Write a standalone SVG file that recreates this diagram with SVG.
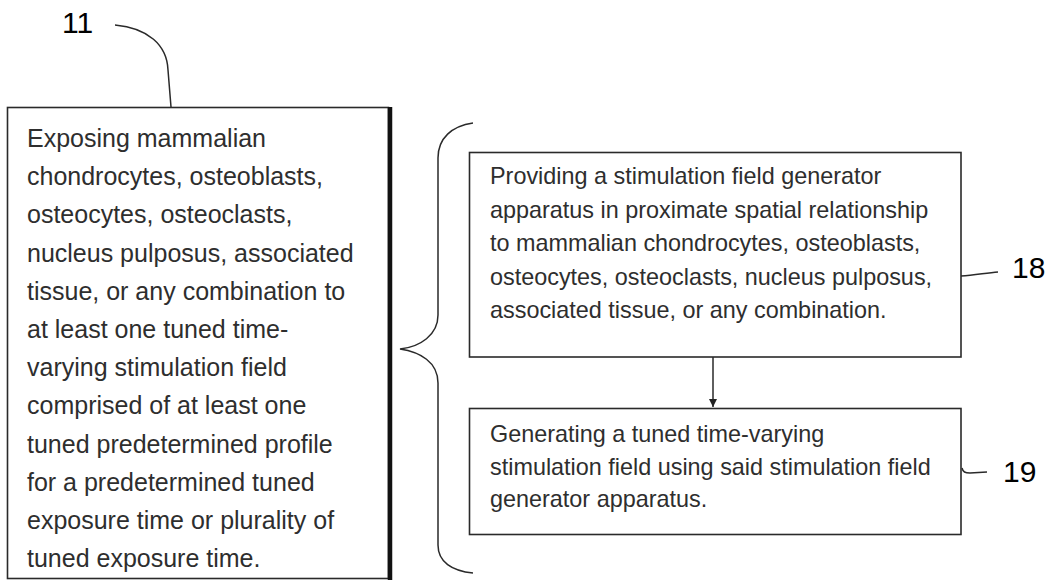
<svg xmlns="http://www.w3.org/2000/svg" width="1054" height="583" viewBox="0 0 1054 583">
<defs>
<style>
.bg{fill:#ffffff}
.box{fill:none;stroke:#2a2a2a;stroke-width:1.6}
.ln{fill:none;stroke:#2a2a2a;stroke-width:1.5}
.tl{font-family:"Liberation Sans",Arial,sans-serif;font-size:25px;fill:#2e2e2e}
.tr{font-family:"Liberation Sans",Arial,sans-serif;font-size:23.4px;fill:#2e2e2e}
.num{font-family:"Liberation Sans",Arial,sans-serif;font-size:30px;fill:#000}
</style>
<marker id="ah" viewBox="0 0 10 10" refX="10" refY="5" markerWidth="8" markerHeight="8" markerUnits="userSpaceOnUse" orient="auto">
<path d="M0,0 L10,5 L0,10 z" fill="#222"/>
</marker>
</defs>
<rect class="bg" x="0" y="0" width="1054" height="583"/>

<g id="label-11">
<text class="num" x="62" y="33">11</text>
</g>

<g id="node-11">
<rect class="box" x="7.5" y="107.5" width="381" height="471"/>
<line x1="390" y1="107" x2="390" y2="580" stroke="#111" stroke-width="4.5"/>
<text class="tl" x="27" y="147">Exposing mammalian</text>
<text class="tl" x="27" y="185.2">chondrocytes, osteoblasts,</text>
<text class="tl" x="27" y="223.4">osteocytes, osteoclasts,</text>
<text class="tl" x="27" y="261.6">nucleus pulposus, associated</text>
<text class="tl" x="27" y="299.8">tissue, or any combination to</text>
<text class="tl" x="27" y="338">at least one tuned time-</text>
<text class="tl" x="27" y="376.2">varying stimulation field</text>
<text class="tl" x="27" y="414.4">comprised of at least one</text>
<text class="tl" x="27" y="452.6">tuned predetermined profile</text>
<text class="tl" x="27" y="490.8">for a predetermined tuned</text>
<text class="tl" x="27" y="529">exposure time or plurality of</text>
<text class="tl" x="27" y="567.2">tuned exposure time.</text>
</g>

<g id="node-18">
<rect class="box" x="469.5" y="152.5" width="491.5" height="204.5"/>
<text class="tr" x="490" y="184">Providing a stimulation field generator</text>
<text class="tr" x="490" y="218">apparatus in proximate spatial relationship</text>
<text class="tr" x="490" y="251">to mammalian chondrocytes, osteoblasts,</text>
<text class="tr" x="490" y="285">osteocytes, osteoclasts, nucleus pulposus,</text>
<text class="tr" x="490" y="318">associated tissue, or any combination.</text>
</g>

<g id="label-18">
<text class="num" x="1012" y="278">18</text>
</g>

<g id="node-19">
<rect class="box" x="469.5" y="408.5" width="491.5" height="126"/>
<text class="tr" x="490" y="442">Generating a tuned time-varying</text>
<text class="tr" x="490" y="475">stimulation field using said stimulation field</text>
<text class="tr" x="490" y="507">generator apparatus.</text>
</g>

<g id="label-19">
<text class="num" x="1003" y="482">19</text>
</g>

<g id="connectors">
<path class="ln" d="M115,25 C148,28 167,45 168,70 L171,107"/>
<path class="ln" d="M473,123 C452,126 438,138 438,158 L438,315 C438,335 420,347 400,349 C420,352 438,362 438,383 L438,545 C438,562 452,571 473,573"/>
<line class="ln" x1="713" y1="357" x2="713" y2="407" marker-end="url(#ah)"/>
<path class="ln" d="M961,276 C975,275 986,273 998,272"/>
<path class="ln" d="M962,468 C963,472 965,473 970,473 L987,472"/>
</g>
</svg>
